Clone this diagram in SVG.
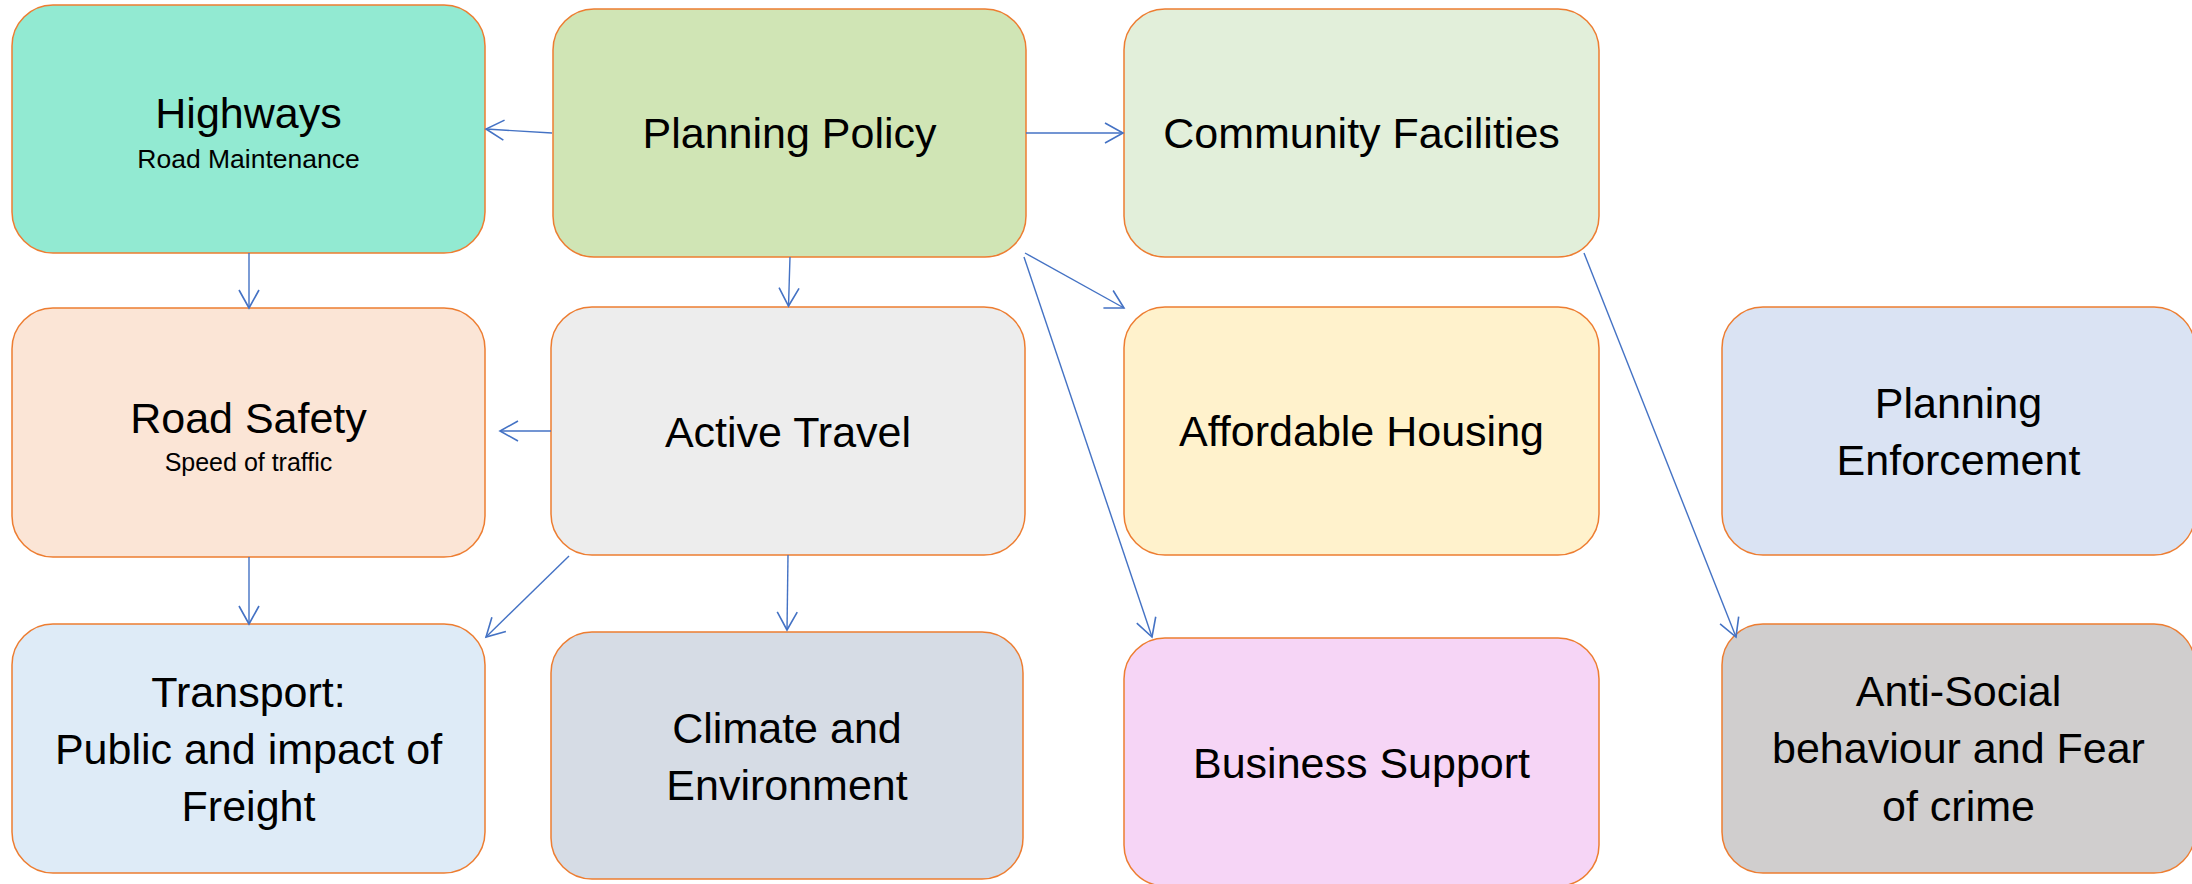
<svg xmlns="http://www.w3.org/2000/svg" width="2192" height="884" viewBox="0 0 2192 884">
<style>
.box{stroke:#ED7D31;stroke-width:1.5}
.t{font-family:"Liberation Sans",Arial,sans-serif;font-size:43px;fill:#000;text-anchor:middle}
.s{font-family:"Liberation Sans",Arial,sans-serif;font-size:25px;fill:#000;text-anchor:middle}
.c{stroke:#4472C4;stroke-width:1.4;fill:none;marker-end:url(#arr)}
</style>
<defs>
<marker id="arr" markerUnits="userSpaceOnUse" markerWidth="24" markerHeight="24" viewBox="-20 -12 22 24" refX="0" refY="0" orient="auto">
<path d="M -18 -10 L 0 0 L -18 10" fill="none" stroke="#4472C4" stroke-width="1.6"/>
</marker>
</defs>
<rect width="2192" height="884" fill="#fff"/>
<g id="highways"><rect class="box" x="12" y="5" width="473" height="248" rx="41" fill="#92EAD2"/><text class="t" x="248.5" y="128">Highways</text><text class="s" x="248.5" y="168" style="font-size:26.5px">Road Maintenance</text></g>
<g id="planning-policy"><rect class="box" x="553" y="9" width="473" height="248" rx="41" fill="#D0E5B5"/><text class="t" x="789.5" y="148">Planning Policy</text></g>
<g id="community-facilities"><rect class="box" x="1124" y="9" width="475" height="248" rx="41" fill="#E2EFDA"/><text class="t" x="1361.5" y="148">Community Facilities</text></g>
<g id="road-safety"><rect class="box" x="12" y="308" width="473" height="249" rx="41" fill="#FBE5D6"/><text class="t" x="248.5" y="433">Road Safety</text><text class="s" x="248.5" y="471">Speed of traffic</text></g>
<g id="active-travel"><rect class="box" x="551" y="307" width="474" height="248" rx="41" fill="#EDEDED"/><text class="t" x="788" y="447">Active Travel</text></g>
<g id="affordable-housing"><rect class="box" x="1124" y="307" width="475" height="248" rx="41" fill="#FFF2CC"/><text class="t" x="1361.5" y="446">Affordable Housing</text></g>
<g id="planning-enforcement"><rect class="box" x="1722" y="307" width="473" height="248" rx="41" fill="#DAE3F3"/><text class="t" x="1958.5" y="418">Planning</text><text class="t" x="1958.5" y="475">Enforcement</text></g>
<g id="transport"><rect class="box" x="12" y="624" width="473" height="249" rx="41" fill="#DEEBF7"/><text class="t" x="248.5" y="707">Transport:</text><text class="t" x="248.5" y="764">Public and impact of</text><text class="t" x="248.5" y="821">Freight</text></g>
<g id="climate"><rect class="box" x="551" y="632" width="472" height="247" rx="41" fill="#D6DCE5"/><text class="t" x="787" y="743">Climate and</text><text class="t" x="787" y="800">Environment</text></g>
<g id="business-support"><rect class="box" x="1124" y="638" width="475" height="248" rx="41" fill="#F6D5F6"/><text class="t" x="1361.5" y="778">Business Support</text></g>
<g id="anti-social"><rect class="box" x="1722" y="624" width="473" height="249" rx="41" fill="#D0CECE"/><text class="t" x="1958.5" y="706">Anti-Social</text><text class="t" x="1958.5" y="763">behaviour and Fear</text><text class="t" x="1958.5" y="821">of crime</text></g>
<g id="connectors">
<line class="c" x1="552" y1="133" x2="486" y2="129"/>
<line class="c" x1="1026" y1="133" x2="1123" y2="133"/>
<line class="c" x1="790" y1="257" x2="788.5" y2="306"/>
<line class="c" x1="1025" y1="253" x2="1124" y2="308"/>
<line class="c" x1="1024" y1="257" x2="1152" y2="637"/>
<line class="c" x1="1584" y1="253" x2="1736" y2="637"/>
<line class="c" x1="249" y1="253" x2="249" y2="308"/>
<line class="c" x1="551" y1="431" x2="500" y2="431"/>
<line class="c" x1="249" y1="557" x2="249" y2="624"/>
<line class="c" x1="569" y1="556" x2="486" y2="637"/>
<line class="c" x1="788" y1="555" x2="787" y2="630"/>
</g>
</svg>
